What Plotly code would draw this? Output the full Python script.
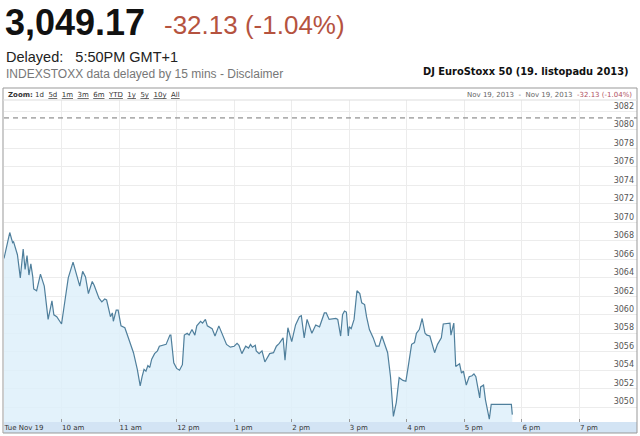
import pandas as pd
import plotly.graph_objects as go

# intraday quotes, DJ EuroStoxx 50, 19 Nov 2013
times = [
    "09:00", "09:06", "09:09", "09:10", "09:14", "09:17", "09:20", "09:22", "09:24", "09:26",
    "09:28", "09:30", "09:31", "09:34", "09:38", "09:42", "09:46", "09:50", "09:52", "09:55",
    "10:00", "10:03", "10:07", "10:12", "10:16", "10:19", "10:22", "10:25", "10:28", "10:32",
    "10:34", "10:39", "10:42", "10:45", "10:47", "10:51", "10:53", "10:54", "10:57", "10:59",
    "11:02", "11:06", "11:09", "11:13", "11:15", "11:19", "11:22", "11:24", "11:26", "11:28",
    "11:30", "11:32", "11:34", "11:37", "11:40", "11:42", "11:46", "11:49", "11:53", "11:54",
    "11:57", "12:00", "12:03", "12:06", "12:08", "12:11", "12:13", "12:16", "12:19", "12:21",
    "12:25", "12:27", "12:30", "12:32", "12:37", "12:40", "12:44", "12:47", "12:52", "12:56",
    "13:00", "13:03", "13:05", "13:08", "13:12", "13:15", "13:17", "13:19", "13:22", "13:23",
    "13:26", "13:29", "13:32", "13:37", "13:41", "13:44", "13:47", "13:51", "13:53", "13:56",
    "14:00", "14:04", "14:08", "14:10", "14:13", "14:16", "14:21", "14:25", "14:29", "14:34",
    "14:36", "14:39", "14:43", "14:46", "14:48", "14:51", "14:53", "14:55", "14:57", "14:59",
    "15:00", "15:02", "15:05", "15:08", "15:11", "15:13", "15:16", "15:18", "15:21", "15:25",
    "15:28", "15:31", "15:34", "15:37", "15:40", "15:43", "15:46", "15:49", "15:52", "15:56",
    "15:59", "16:01", "16:05", "16:08", "16:10", "16:13", "16:16", "16:19", "16:21", "16:24",
    "16:29", "16:32", "16:36", "16:38", "16:43", "16:45", "16:46", "16:49", "16:51", "16:55",
    "16:57", "16:59", "17:02", "17:05", "17:08", "17:10", "17:12", "17:16", "17:17", "17:20",
    "17:22", "17:26", "17:28", "17:33", "17:49", "17:50",
]
prices = [
    3066.1, 3068.9, 3067.8, 3067.9, 3066.5, 3064.0, 3067.1, 3064.9, 3066.4, 3064.3,
    3065.5, 3064.1, 3062.8, 3062.6, 3064.4, 3063.1, 3059.5, 3061.5, 3060.0, 3059.8,
    3059.0, 3061.3, 3064.0, 3065.7, 3064.3, 3063.1, 3064.7, 3064.1, 3062.3, 3063.6,
    3063.2, 3061.8, 3061.4, 3061.7, 3061.6, 3059.8, 3060.2, 3059.3, 3060.5, 3060.5,
    3058.8, 3058.6, 3057.7, 3056.4, 3055.9, 3054.1, 3052.3, 3053.3, 3054.1, 3053.9,
    3054.5, 3054.3, 3055.2, 3055.8, 3056.1, 3056.6, 3056.7, 3056.8, 3057.8, 3057.8,
    3054.8, 3054.2, 3054.0, 3054.6, 3057.8, 3058.0, 3057.8, 3058.4, 3057.8, 3058.8,
    3059.3, 3059.1, 3059.5, 3058.8, 3058.5, 3057.7, 3058.8, 3058.0, 3056.8, 3056.5,
    3056.6, 3056.9, 3056.7, 3055.8, 3056.6, 3056.4, 3056.8, 3056.5, 3056.7, 3056.1,
    3055.8, 3056.1, 3054.9, 3055.8, 3055.9, 3056.6, 3056.9, 3057.5, 3055.1, 3058.6,
    3057.1, 3058.9, 3059.8, 3059.9, 3057.5, 3059.5, 3058.0, 3058.9, 3058.7, 3060.2,
    3060.2, 3059.5, 3059.6, 3059.6, 3059.5, 3057.7, 3060.0, 3060.4, 3060.3, 3057.7,
    3058.7, 3058.5, 3059.5, 3062.6, 3062.3, 3061.3, 3061.1, 3059.8, 3058.4, 3057.5,
    3056.6, 3056.6, 3057.7, 3056.8, 3055.9, 3053.3, 3049.0, 3050.5, 3053.2, 3052.9,
    3052.8, 3054.1, 3056.8, 3057.0, 3058.0, 3058.4, 3059.6, 3058.0, 3057.8, 3057.7,
    3055.9, 3056.8, 3057.5, 3059.0, 3059.1, 3059.1, 3057.8, 3059.1, 3054.4, 3054.7,
    3053.7, 3053.9, 3052.4, 3053.3, 3053.4, 3053.6, 3053.3, 3051.0, 3052.2, 3052.4,
    3050.8, 3048.7, 3050.3, 3050.3, 3050.3, 3049.2,
]
prev_close = 3081.30
y_ticks = list(range(3050, 3083, 2))
x_ticks = ["09:00", "10:00", "11:00", "12:00", "13:00", "14:00", "15:00", "16:00", "17:00", "18:00", "19:00"]
x_labels = ["Tue Nov 19", "10 am", "11 am", "12 pm", "1 pm", "2 pm", "3 pm", "4 pm", "5 pm", "6 pm", "7 pm"]

day = "2013-11-19 "
x = pd.to_datetime([day + t for t in times])

# plot area in pixels: x 4..637, y 100..422; time band 422..433 below it
W, H = 633, 322
band = 11 / H

fig = go.Figure()
fig.add_trace(go.Scatter(
    x=x, y=prices, mode="lines",
    line=dict(color="#4f7f9c", width=1.2),
    fill="tozeroy", fillcolor="rgba(222,240,250,0.85)",
    hoverinfo="skip", showlegend=False,
))
fig.add_hline(y=prev_close, line=dict(color="#777", width=1, dash="5px,4px"))

grid = "#ececec"
fig.update_layout(
    width=640, height=436,
    margin=dict(l=4, r=3, t=100, b=14),
    paper_bgcolor="white", plot_bgcolor="white",
    xaxis=dict(
        range=[day + "09:00", day + "20:00"],
        tickvals=[day + t for t in x_ticks], ticktext=x_labels,
        ticklabelposition="outside right", ticks="inside", ticklen=3, tickcolor="#999",
        showgrid=True, gridcolor=grid, zeroline=False, showline=False,
        tickfont=dict(family="DejaVu Sans", size=7, color="#333"),
        automargin=False, fixedrange=True,
    ),
    yaxis=dict(
        range=[3048.4, 3083.24], side="right",
        tickvals=y_ticks, ticklabelposition="inside top",
        showgrid=True, gridcolor=grid, zeroline=False, showline=False,
        tickfont=dict(family="DejaVu Sans", size=8, color="#555"), ticks="",
        automargin=False, fixedrange=True,
    ),
)

# time band under the plot and the outer frame
fig.add_shape(type="rect", xref="paper", yref="paper", x0=0, x1=1, y0=-band, y1=0,
              fillcolor="#d3e4f4", line=dict(width=0), layer="below")
fig.add_shape(type="rect", xref="paper", yref="paper", x0=-1 / W, x1=1, y0=-band, y1=1 + 12 / H,
              line=dict(color="#999", width=1))
fig.add_shape(type="line", xref="paper", yref="paper", x0=-1 / W, x1=1, y0=1, y1=1,
              line=dict(color="#ddd", width=1))

ann = [
    dict(text="<b>3,049.17</b>", x=3, y=45, font=dict(family="Arial", size=36, color="#111")),
    dict(text="-32.13 (-1.04%)", x=162, y=42, font=dict(family="Arial", size=26, color="#b5533f")),
    dict(text="Delayed:   5:50PM GMT+1", x=4, y=67, font=dict(family="Arial", size=14.5, color="#222")),
    dict(text="INDEXSTOXX data delayed by 15 mins - Disclaimer", x=4, y=83,
         font=dict(family="Arial", size=12, color="#777")),
    dict(text="<b>DJ EuroStoxx 50 (19. listopadu 2013)</b>", x=631, y=79, xanchor="right",
         font=dict(family="DejaVu Sans", size=9.9, color="#111")),
    dict(text="<b>Zoom:</b> 1d  <u>5d</u>  <u>1m</u>  <u>3m</u>  <u>6m</u>  <u>YTD</u>  <u>1y</u>  <u>5y</u>  <u>10y</u>  <u>All</u>",
         x=6, y=101, font=dict(family="DejaVu Sans", size=7, color="#333")),
    dict(text="Nov 19, 2013  -  Nov 19, 2013  <span style='color:#b05060'>-32.13 (-1.04%)</span>",
         x=634, y=101, xanchor="right", font=dict(family="DejaVu Sans", size=7, color="#666")),
]
for a in ann:
    a.setdefault("xanchor", "left")
    fig.add_annotation(xref="paper", yref="paper", yanchor="bottom", showarrow=False,
                       x=(a.pop("x") - 4) / W, y=(436 - 14 - a.pop("y")) / H, **a)

# the page body has an 8px default margin; drop it so the figure fills the window
fig.write_html("out.html", config={"displayModeBar": False},
               post_script="document.body.style.margin='0';")
